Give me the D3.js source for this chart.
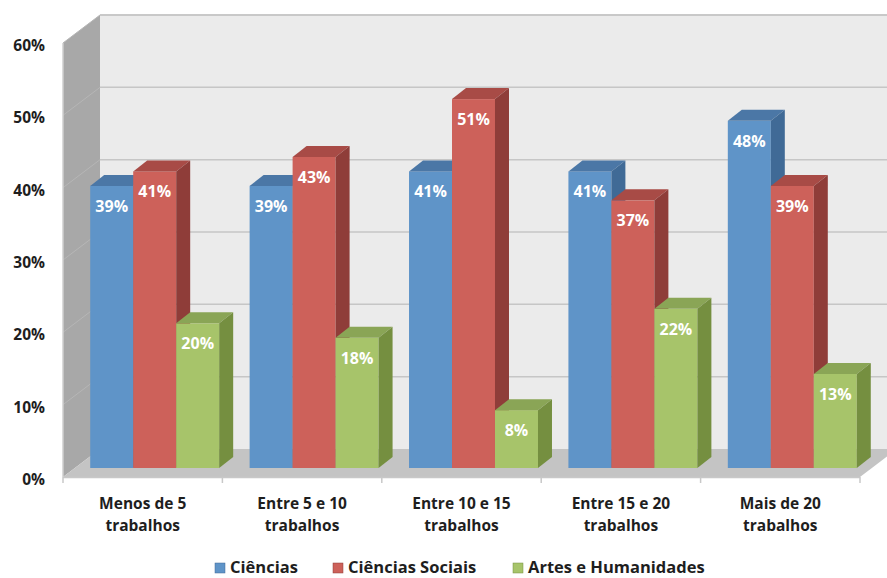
<!DOCTYPE html>
<html><head><meta charset="utf-8">
<script src="https://cdn.jsdelivr.net/npm/d3@7"></script>
<style>body{margin:0;background:#fff}svg{display:block}</style>
</head><body>
<script>
const categories = [["Menos de 5","trabalhos"],["Entre 5 e 10","trabalhos"],["Entre 10 e 15","trabalhos"],["Entre 15 e 20","trabalhos"],["Mais de 20","trabalhos"]];
const seriesNames = ["Ciências","Ciências Sociais","Artes e Humanidades"];
const ciencias = [39,39,41,41,48];
const cienciasSociais = [41,43,51,37,39];
const artes = [20,18,8,22,13];
const yTicks = [0,10,20,30,40,50,60];

const values = [ciencias, cienciasSociais, artes];
const colors = [
  {front:"#5f94c8", top:"#4b77a6", side:"#406a96"},
  {front:"#cd615a", top:"#a84b46", side:"#8f3d39"},
  {front:"#a7c46a", top:"#8aa556", side:"#758f40"}
];

const W=887,H=578;
const svg=d3.select("body").append("svg").attr("width",W).attr("height",H);
const font="'Open Sans', sans-serif";

const x0=63,x1=860,yBase=477,yTop=43;
const wallDx=37,wallDy=28;
const barOx=12,barOy=9;
const barDx=14,barDy=11;

const x=d3.scaleBand().domain(d3.range(categories.length)).range([x0,x1]);
const y=d3.scaleLinear().domain([0,60]).range([yBase,yTop]);
const xs=d3.scaleBand().domain(d3.range(3)).range([0,x.bandwidth()]).paddingOuter(0.354);

const g=svg.append("g");
g.append("rect").attr("x",x0+wallDx).attr("y",y(60)-wallDy).attr("width",W).attr("height",y(0)-y(60)).attr("fill","#ebebeb");
g.append("line").attr("x1",x0+wallDx).attr("x2",W).attr("y1",y(60)-wallDy).attr("y2",y(60)-wallDy).attr("stroke","#c6c6c6").attr("stroke-width",1.5);
g.append("polygon").attr("points",[[x0,y(0)],[x0,y(60)],[x0+wallDx,y(60)-wallDy],[x0+wallDx,y(0)-wallDy]].join(" ")).attr("fill","#a8a8a8");
g.append("polygon").attr("points",[[x0,y(0)],[x1,y(0)],[x1+wallDx,y(0)-wallDy],[x0+wallDx,y(0)-wallDy]].join(" ")).attr("fill","#c4c4c4");
yTicks.filter(t=>t>0).forEach(t=>{
  g.append("line").attr("x1",x0+wallDx).attr("x2",W).attr("y1",y(t)-wallDy).attr("y2",y(t)-wallDy).attr("stroke","#c6c6c6").attr("stroke-width",1.5);
  g.append("line").attr("x1",x0).attr("x2",x0+wallDx).attr("y1",y(t)).attr("y2",y(t)-wallDy).attr("stroke","#b6b6b6").attr("stroke-width",1);
});
g.append("line").attr("x1",x0).attr("x2",x1).attr("y1",yBase+0.5).attr("y2",yBase+0.5).attr("stroke","#c8c8c8").attr("stroke-width",1.5);
g.append("line").attr("x1",x0).attr("x2",x0).attr("y1",y(0)).attr("y2",y(60)).attr("stroke","#cfcfcf").attr("stroke-width",1.5);
d3.range(categories.length+1).forEach(i=>{
  const tx=i<categories.length?x(i):x1;
  g.append("line").attr("x1",tx).attr("x2",tx).attr("y1",yBase).attr("y2",yBase+6).attr("stroke","#c8c8c8").attr("stroke-width",1.5);
});

categories.forEach((c,ci)=>{
  values.forEach((vals,si)=>{
    const v=vals[ci];
    const bx=x(ci)+xs(si)+barOx, bw=xs.bandwidth();
    const yb=y(0)-barOy, yt=y(v)-barOy;
    const col=colors[si];
    g.append("rect").attr("x",bx).attr("y",yt).attr("width",bw).attr("height",yb-yt).attr("fill",col.front);
    g.append("polygon").attr("points",[[bx,yt],[bx+barDx,yt-barDy],[bx+bw+barDx,yt-barDy],[bx+bw,yt]].join(" ")).attr("fill",col.top);
    g.append("polygon").attr("points",[[bx+bw,yt],[bx+bw+barDx,yt-barDy],[bx+bw+barDx,yb-barDy],[bx+bw,yb]].join(" ")).attr("fill",col.side);
  });
  values.forEach((vals,si)=>{
    const v=vals[ci];
    const bx=x(ci)+xs(si)+barOx, bw=xs.bandwidth();
    g.append("text").attr("x",bx+bw/2).attr("y",y(v)-barOy+26).attr("text-anchor","middle")
      .attr("font-family",font).attr("font-weight","bold").attr("font-size",16).attr("fill","#fff").text(v+"%");
  });
  const t=g.append("text").attr("text-anchor","middle").attr("font-family",font).attr("font-weight","bold").attr("font-size",15.5).attr("fill","#1e1e1e");
  c.forEach((line,li)=>t.append("tspan").attr("x",x(ci)+x.bandwidth()/2).attr("y",509+li*22).text(line));
});

yTicks.forEach(t=>{
  g.append("text").attr("x",45).attr("y",y(t)+8).attr("text-anchor","end").attr("font-family",font).attr("font-weight","bold").attr("font-size",15.5).attr("fill","#1e1e1e").text(t+"%");
});

const legX=[215,333,513];
seriesNames.forEach((s,i)=>{
  g.append("rect").attr("x",legX[i]).attr("y",563).attr("width",10).attr("height",10).attr("fill",colors[i].front).attr("stroke",colors[i].side).attr("stroke-width",0.5);
  g.append("text").attr("x",legX[i]+15).attr("y",573).attr("font-family",font).attr("font-weight","bold").attr("font-size",16.5).attr("fill","#1e1e1e").text(s);
});
</script>
</body></html>
